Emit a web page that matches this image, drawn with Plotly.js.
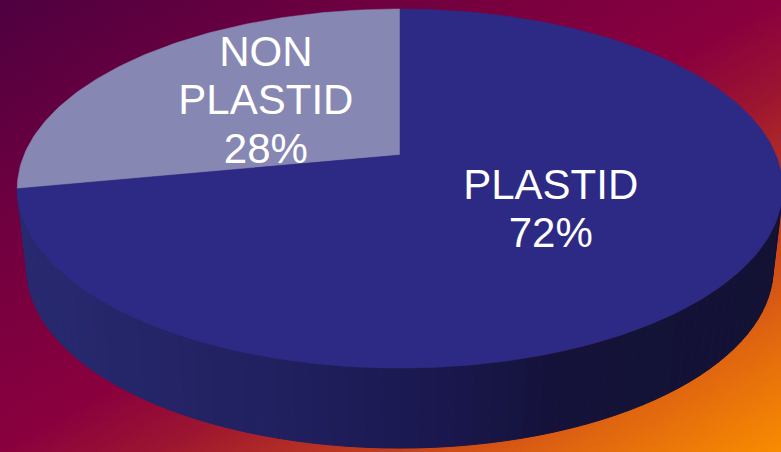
<!DOCTYPE html>
<html><head><meta charset="utf-8">
<script src="https://cdn.plot.ly/plotly-3.0.1.min.js"></script>
<style>
html,body{margin:0;padding:0;overflow:hidden;}
#chart{width:781px;height:452px;background:linear-gradient(to bottom right,#4e0040 0%,#700040 25%,#8a003e 50%,#9c1530 60%,#c4401c 75%,#e06510 86%,#f88c00 100%);}
</style>
</head><body><div id="chart"></div>
<script>
// ---- data ----
const categories = ["NON PLASTID", "PLASTID"];
const values = [28, 72];
const sliceColors = ["#8787b3", "#2c2a85"];

// ---- style / geometry (not data) ----
const W = 781, H = 452;
const cx = 400, cy = 155, a = 376, k = 0.1867, b = 173.3, depth = 80, bottomScale = 0.975;
const labelR = 0.49, lineGap = 48.5, fontSize = 42;
const sideStops = [[17,[40,42,112]],[300,[32,31,94]],[450,[25,23,76]],[560,[20,18,56]],[790,[18,18,53]]];

function proj(phiDeg, r) {
  const p = phiDeg * Math.PI / 180;
  const X = r * Math.cos(p), Z = r * Math.sin(p);
  const d = 1 + k * Z;
  return [cx + a * X / d, cy - b * Z / d];
}
function projBottom(phiDeg) {
  const q = proj(phiDeg, 1);
  return [cx + (q[0] - cx) * bottomScale, q[1] + depth];
}
function sideColor(x) {
  for (let i = 0; i < sideStops.length - 1; i++) {
    const [x0, c0] = sideStops[i], [x1, c1] = sideStops[i + 1];
    if (x <= x1 || i === sideStops.length - 2) {
      const t = Math.max(0, Math.min(1, (x - x0) / (x1 - x0)));
      const c = c0.map((v, j) => Math.round(v + (c1[j] - v) * t));
      return `rgb(${c[0]},${c[1]},${c[2]})`;
    }
  }
}

const traces = [];
const total = values.reduce((s, v) => s + v, 0);

// side wall (front half of the cylinder)
const phiL = 180 + Math.asin(k) * 180 / Math.PI;
const phiR = 360 - Math.asin(k) * 180 / Math.PI;
const N = 70;
for (let i = 0; i < N; i++) {
  const p0 = phiL + (phiR - phiL) * i / N, p1 = phiL + (phiR - phiL) * (i + 1) / N;
  const xs = [], ys = [];
  const steps = 3;
  for (let s = 0; s <= steps; s++) { const q = proj(p0 + (p1 - p0) * s / steps, 1); xs.push(q[0]); ys.push(q[1]); }
  for (let s = steps; s >= 0; s--) { const q = projBottom(p0 + (p1 - p0) * s / steps); xs.push(q[0]); ys.push(q[1]); }
  const col = sideColor(proj((p0 + p1) / 2, 1)[0]);
  traces.push({type: "scatter", x: xs, y: ys, mode: "lines", fill: "toself", fillcolor: col,
    line: {color: col, width: 1}, hoverinfo: "skip", showlegend: false});
}

// top face slices
let start = 90;
const mids = [];
values.forEach((v, i) => {
  const span = v / total * 360;
  const xs = [cx], ys = [cy];
  const n = Math.max(8, Math.ceil(span));
  for (let s = 0; s <= n; s++) { const q = proj(start + span * s / n, 1); xs.push(q[0]); ys.push(q[1]); }
  xs.push(cx); ys.push(cy);
  traces.push({type: "scatter", x: xs, y: ys, mode: "lines", fill: "toself", fillcolor: sliceColors[i],
    line: {color: sliceColors[i], width: 0.5}, hoverinfo: "skip", showlegend: false, name: categories[i]});
  mids.push(start + span / 2);
  start += span;
});

// labels
values.forEach((v, i) => {
  const lines = categories[i].split(" ").concat([Math.round(v / total * 100) + "%"]);
  const c = proj(mids[i], labelR);
  const xs = [], ys = [];
  lines.forEach((l, j) => { xs.push(c[0]); ys.push(c[1] + (j - (lines.length - 1) / 2) * lineGap); });
  traces.push({type: "scatter", x: xs, y: ys, mode: "text", text: lines, textposition: "middle center",
    textfont: {family: "Liberation Sans, Arial, sans-serif", size: fontSize, color: "#ffffff"},
    hoverinfo: "skip", showlegend: false});
});

Plotly.newPlot("chart", traces, {
  width: W, height: H, margin: {l: 0, r: 0, t: 0, b: 0},
  paper_bgcolor: "rgba(0,0,0,0)", plot_bgcolor: "rgba(0,0,0,0)",
  xaxis: {range: [0, W], visible: false, fixedrange: true},
  yaxis: {range: [H, 0], visible: false, fixedrange: true},
  showlegend: false, hovermode: false
}, {displayModeBar: false, staticPlot: true});
</script>
</body></html>
